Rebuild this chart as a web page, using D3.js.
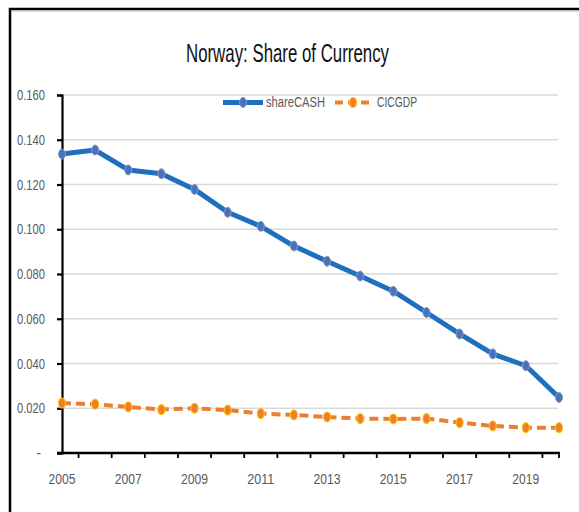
<!DOCTYPE html>
<html>
<head>
<meta charset="utf-8">
<script src="https://cdn.jsdelivr.net/npm/d3@7"></script>
<style>
  html, body { margin: 0; padding: 0; background: #fff; }
  svg { display: block; }
</style>
</head>
<body>
<svg id="chart" width="579" height="512"></svg>
<script>
const years = [2005,2006,2007,2008,2009,2010,2011,2012,2013,2014,2015,2016,2017,2018,2019,2020];
const shareCASH = [0.1336,0.1354,0.1265,0.1248,0.1178,0.1076,0.1013,0.0925,0.0857,0.0791,0.0723,0.0628,0.0532,0.0443,0.0390,0.0248];
const CICGDP = [0.0223,0.0218,0.0206,0.0194,0.0200,0.0192,0.0176,0.0170,0.0161,0.0154,0.0152,0.0154,0.0136,0.0121,0.0113,0.0113];
const yTicks = [0,0.02,0.04,0.06,0.08,0.10,0.12,0.14,0.16];
const xLabelYears = [2005,2007,2009,2011,2013,2015,2017,2019];
const seriesNames = ["shareCASH","CICGDP"];
const title = "Norway: Share of Currency";

const svg = d3.select("#chart");
const font = "'Liberation Sans', Arial, sans-serif";
const textColor = "#595959";

// outer frame
svg.append("rect").attr("x",10).attr("y",9).attr("width",620).attr("height",620)
  .attr("fill","none").attr("stroke","#000").attr("stroke-width",2.5);
svg.append("line").attr("x1",11).attr("x2",579).attr("y1",11).attr("y2",11)
  .attr("stroke","#bbb").attr("stroke-width",1);

const x = d3.scalePoint().domain(years).range([62,559]);
const y = d3.scaleLinear().domain([0,0.16]).range([453,95]);

// title
svg.append("text").attr("x",287.5).attr("y",62).attr("text-anchor","middle")
  .attr("font-family",font).attr("font-size",25).attr("fill","#111")
  .attr("textLength",203).attr("lengthAdjust","spacingAndGlyphs")
  .text(title);

// gridlines
svg.append("g").selectAll("line").data(yTicks.filter(d=>d>0)).join("line")
  .attr("x1",62).attr("x2",558).attr("y1",d=>y(d)).attr("y2",d=>y(d))
  .attr("stroke","#d9d9d9").attr("stroke-width",1.5);

// y axis
const yAxis = d3.axisLeft(y).tickValues(yTicks).tickSize(5).tickPadding(12)
  .tickFormat(d => d === 0 ? "-" : d3.format(".3f")(d));
const gy = svg.append("g").attr("transform","translate(62,0)").call(yAxis);
gy.select(".domain").attr("stroke","#000").attr("stroke-width",2.2);
gy.selectAll(".tick line").attr("stroke","#000").attr("stroke-width",2.2);
gy.selectAll(".tick text").attr("font-family",font).attr("font-size",14.5).attr("fill",textColor)
  .attr("dx", d => d === 0 ? -4 : 0)
  .attr("textLength", d => d === 0 ? null : 28)
  .attr("lengthAdjust","spacingAndGlyphs");

// x axis
const step = x.step();
const xTickPos = years.slice(0,-1).map(d => x(d) + step/2).concat([x(2020)]);
const gx = svg.append("g");
gx.append("line").attr("x1",57).attr("x2",x(2020)+1).attr("y1",453).attr("y2",453)
  .attr("stroke","#000").attr("stroke-width",2.5);
gx.selectAll("line.tk").data(xTickPos).join("line").attr("class","tk")
  .attr("x1",d=>d).attr("x2",d=>d).attr("y1",453).attr("y2",458)
  .attr("stroke","#000").attr("stroke-width",1.8);
gx.selectAll("text").data(xLabelYears).join("text")
  .attr("x",d=>x(d)).attr("y",484).attr("text-anchor","middle")
  .attr("font-family",font).attr("font-size",15.5).attr("fill",textColor)
  .attr("textLength",27).attr("lengthAdjust","spacingAndGlyphs")
  .text(d=>d);

// lines
const line = d3.line().x((d,i)=>x(years[i])).y(d=>y(d));
svg.append("path").datum(CICGDP).attr("d",line).attr("fill","none")
  .attr("stroke","#ED7D31").attr("stroke-width",4).attr("stroke-dasharray","9,5");
svg.append("path").datum(shareCASH).attr("d",line).attr("fill","none")
  .attr("stroke","#1F6FBF").attr("stroke-width",5).attr("stroke-linejoin","round");

// markers
svg.append("g").selectAll("ellipse").data(CICGDP).join("ellipse")
  .attr("cx",(d,i)=>x(years[i])).attr("cy",d=>y(d)).attr("rx",3.5).attr("ry",5)
  .attr("fill","#ED7D31").attr("stroke","#FFC000").attr("stroke-width",1.2);
svg.append("g").selectAll("ellipse").data(shareCASH).join("ellipse")
  .attr("cx",(d,i)=>x(years[i])).attr("cy",d=>y(d)).attr("rx",3.5).attr("ry",5)
  .attr("fill","#4472C4").attr("stroke","#9a9aa8").attr("stroke-width",1);

// legend
const lg = svg.append("g");
lg.append("line").attr("x1",223).attr("x2",263).attr("y1",102.5).attr("y2",102.5)
  .attr("stroke","#1F6FBF").attr("stroke-width",5);
lg.append("ellipse").attr("cx",243).attr("cy",102.5).attr("rx",3.5).attr("ry",5)
  .attr("fill","#4472C4").attr("stroke","#9a9aa8").attr("stroke-width",1);
lg.append("text").attr("x",266).attr("y",103).attr("dominant-baseline","middle")
  .attr("font-family",font).attr("font-size",14).attr("fill",textColor)
  .attr("textLength",59).attr("lengthAdjust","spacingAndGlyphs").text(seriesNames[0]);
lg.append("line").attr("x1",335).attr("x2",371).attr("y1",102.5).attr("y2",102.5)
  .attr("stroke","#ED7D31").attr("stroke-width",4).attr("stroke-dasharray","8,5");
lg.append("ellipse").attr("cx",353).attr("cy",102.5).attr("rx",3.5).attr("ry",5)
  .attr("fill","#ED7D31").attr("stroke","#FFC000").attr("stroke-width",1.2);
lg.append("text").attr("x",377).attr("y",103).attr("dominant-baseline","middle")
  .attr("font-family",font).attr("font-size",14).attr("fill",textColor)
  .attr("textLength",40).attr("lengthAdjust","spacingAndGlyphs").text(seriesNames[1]);
</script>
</body>
</html>
